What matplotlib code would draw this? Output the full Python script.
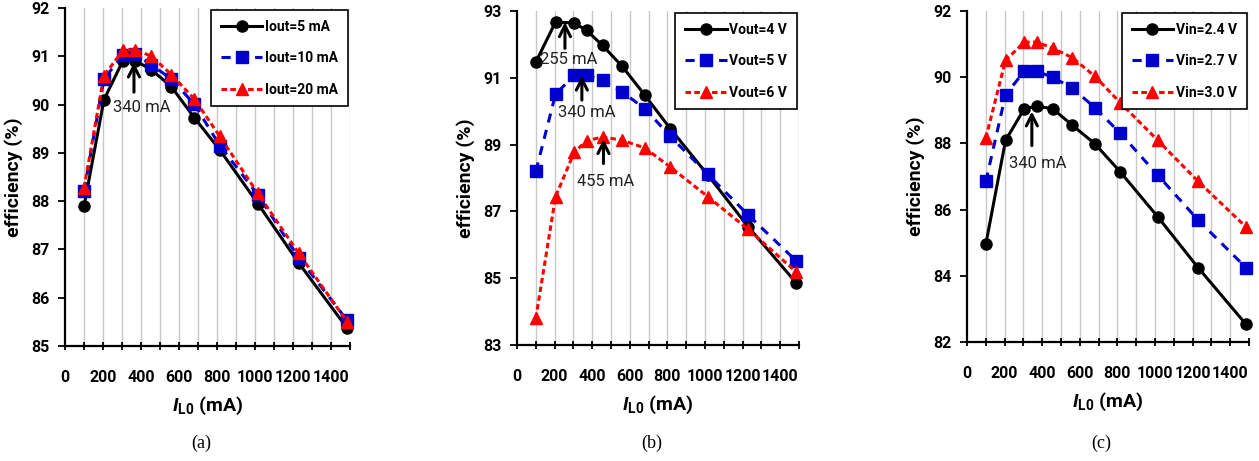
import matplotlib.pyplot as plt

plt.rcParams['font.family'] = ['Roboto', 'DejaVu Sans']
plt.rcParams['font.weight'] = 'bold'
plt.rcParams['axes.labelweight'] = 'bold'
plt.rcParams['mathtext.fontset'] = 'custom'
plt.rcParams['mathtext.bfit'] = 'Roboto:bold:italic'
plt.rcParams['mathtext.bf'] = 'Roboto:bold'

il0 = [100, 205, 305, 370, 455, 560, 680, 815, 1015, 1230, 1485]
xticks = [0, 200, 400, 600, 800, 1000, 1200, 1400]

# panel (a): different output currents
iout_labels = ['Iout=5 mA', 'Iout=10 mA', 'Iout=20 mA']
eff_a5 = [87.89, 90.10, 90.91, 90.91, 90.72, 90.37, 89.73, 89.06, 87.95, 86.72, 85.37]
eff_a10 = [88.21, 90.53, 91.03, 91.05, 90.82, 90.53, 90.01, 89.15, 88.13, 86.83, 85.53]
eff_a20 = [88.27, 90.60, 91.12, 91.14, 91.00, 90.62, 90.12, 89.34, 88.16, 86.92, 85.50]

# panel (b): different output voltages
vout_labels = ['Vout=4 V', 'Vout=5 V', 'Vout=6 V']
eff_b4 = [91.47, 92.67, 92.64, 92.42, 91.97, 91.34, 90.48, 89.48, 88.09, 86.54, 84.86]
eff_b5 = [88.20, 90.51, 91.08, 91.08, 90.93, 90.57, 90.08, 89.25, 88.11, 86.89, 85.52]
eff_b6 = [83.80, 87.44, 88.78, 89.11, 89.23, 89.13, 88.90, 88.33, 87.44, 86.46, 85.19]

# panel (c): different input voltages
vin_labels = ['Vin=2.4 V', 'Vin=2.7 V', 'Vin=3.0 V']
eff_c24 = [84.95, 88.09, 89.05, 89.12, 89.05, 88.55, 87.99, 87.14, 85.78, 84.24, 82.53]
eff_c27 = [86.85, 89.47, 90.18, 90.18, 90.00, 89.67, 89.08, 88.31, 87.04, 85.68, 84.24]
eff_c30 = [88.16, 90.51, 91.06, 91.06, 90.88, 90.59, 90.03, 89.23, 88.09, 86.85, 85.47]

yticks_a = [85, 86, 87, 88, 89, 90, 91, 92]
yticks_b = [83, 85, 87, 89, 91, 93]
yticks_c = [82, 84, 86, 88, 90, 92]

fig = plt.figure(figsize=(12.59, 4.61), dpi=100)
W, H = 1259, 461
boxes = [(65, 8, 350, 346), (517, 11, 799, 345), (967, 11, 1249, 342)]
panels = [
    (iout_labels, [eff_a5, eff_a10, eff_a20], yticks_a, '(a)',
     [(363, 90.93, 90.2, '340 mA', 405, 89.93)]),
    (vout_labels, [eff_b4, eff_b5, eff_b6], yticks_b, '(b)',
     [(255, 92.75, 91.8, '255 mA', 275, 91.55)]
     + [(345, 91.15, 90.25, '340 mA', 370, 89.95),
        (460, 89.25, 88.35, '455 mA', 470, 87.9)]),
    (vin_labels, [eff_c24, eff_c27, eff_c30], yticks_c, '(c)',
     [(345, 89.05, 87.85, '340 mA', 375, 87.4)]),
]
styles = [
    dict(color='black', linestyle='-', marker='o'),
    dict(color='#0000cc', linestyle=(0, (3, 2.5)), marker='s'),
    dict(color='red', linestyle=(0, (1.8, 1.1)), marker='^'),
]

for (x0, y0, x1, y1), (labels, series, yticks, tag, notes) in zip(boxes, panels):
    ax = fig.add_axes([x0 / W, 1 - y1 / H, (x1 - x0) / W, (y1 - y0) / H])
    for vals, lab, st in zip(series, labels, styles):
        ax.plot(il0, vals, label=lab, linewidth=2.2, markersize=8, clip_on=False, **st)
    ax.set_xlim(0, 1500)
    ax.set_ylim(yticks[0], yticks[-1])
    ax.set_yticks(yticks, [str(v) for v in yticks], fontweight='bold')
    ax.set_xticks(xticks, [str(v) for v in xticks], fontweight='bold')
    ax.set_xticks(range(100, 1501, 200), minor=True)
    for gx in range(100, 1501, 100):
        ax.axvline(gx, color='#c8c8c8', linewidth=1, zorder=0)
    for side in ['top', 'right']:
        ax.spines[side].set_visible(False)
    for side in ['left', 'bottom']:
        ax.spines[side].set_linewidth(1.6)
    ax.tick_params(axis='x', which='both', direction='inout', length=6, width=1.3,
                   labelsize=11.5, pad=14)
    ax.tick_params(axis='y', direction='out', length=5, width=1.3, labelsize=11.5, pad=6)
    ax.set_xlabel(r'$\boldsymbol{I}_{\mathbf{L0}}$ (mA)', fontsize=14, labelpad=7)
    ax.set_ylabel('efficiency (%)', fontsize=14, labelpad=6)
    leg = ax.legend(loc='upper right', fontsize=10, frameon=True, fancybox=False,
                    edgecolor='black', framealpha=1, handlelength=3.0, handletextpad=0.2,
                    labelspacing=1.25, borderpad=0.7, borderaxespad=0.15)
    leg.get_frame().set_linewidth(1.2)
    for ax_x, y_tip, y_tail, txt, tx, ty in notes:
        ax.annotate('', xy=(ax_x, y_tip), xytext=(ax_x, y_tail),
                    arrowprops=dict(arrowstyle='->', color='black', lw=2.2, mutation_scale=20))
        ax.text(tx, ty, txt, ha='center', va='center', fontsize=12, color='#222222',
                fontweight='normal')
    fig.text((x0 + x1) / 2 / W - 0.005, 1 - 443 / H, tag, ha='center', va='center',
             fontsize=13, fontweight='normal', family=['Liberation Serif', 'DejaVu Serif'])

fig.savefig('out.png', dpi=100)
